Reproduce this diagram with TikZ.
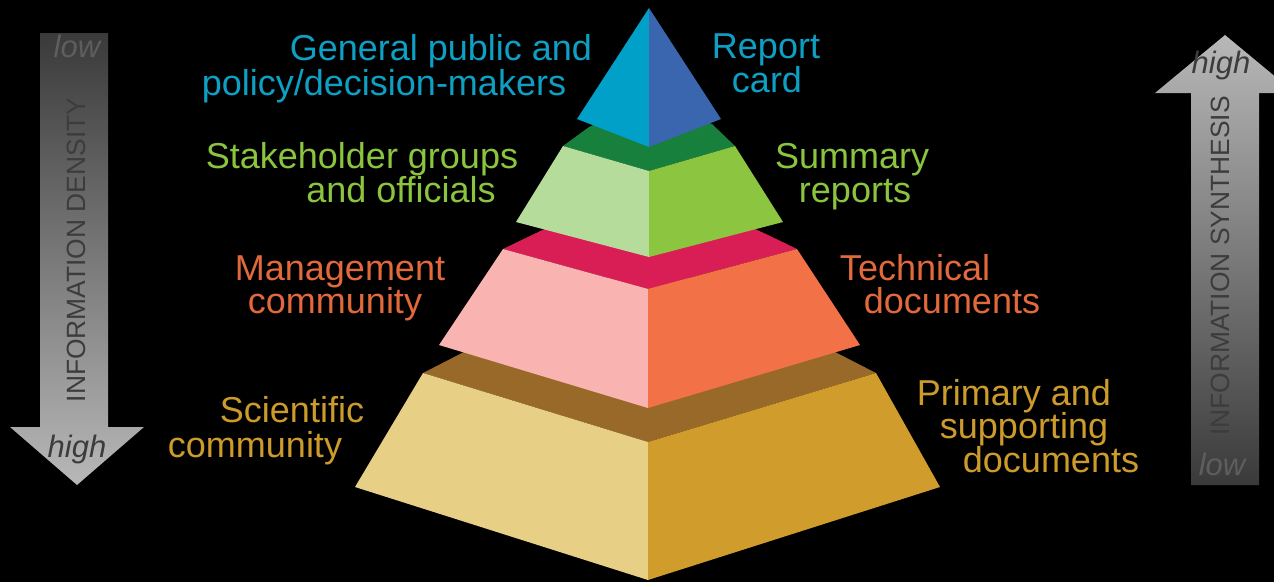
\documentclass[tikz,border=0pt]{standalone}
\usepackage{fontspec}
\setmainfont{Liberation Sans}
\definecolor{tetraL}{HTML}{00A0C8}
\definecolor{tetraR}{HTML}{3A66B0}
\definecolor{greenTop}{HTML}{17803D}
\definecolor{greenL}{HTML}{B6DC9C}
\definecolor{greenR}{HTML}{8CC540}
\definecolor{redTop}{HTML}{D91E56}
\definecolor{pinkL}{HTML}{F9B3B0}
\definecolor{orangeR}{HTML}{F37147}
\definecolor{brownTop}{HTML}{996929}
\definecolor{tanL}{HTML}{E8CF86}
\definecolor{goldR}{HTML}{D09D2D}
\definecolor{txtCyan}{HTML}{0DA0C4}
\definecolor{txtGreen}{HTML}{8BC53F}
\definecolor{txtOrange}{HTML}{E2693C}
\definecolor{txtGold}{HTML}{CC9B2C}
\definecolor{arrDark}{HTML}{3A3A3A}
\definecolor{arrLight}{HTML}{B8B8B8}
\definecolor{arrText}{HTML}{3C3C3C}
\definecolor{arrLow}{HTML}{5E5E5E}
\begin{document}
\begin{tikzpicture}[x=1pt,y=-1pt,
  lbl/.style={font=\fontsize{36}{36}\selectfont, inner sep=0pt, anchor=base},
  vlbl/.style={font=\fontsize{26.4}{26.4}\selectfont, inner sep=0pt, rotate=90, text=arrText},
  ilbl/.style={font=\fontsize{31}{31}\selectfont\itshape, inner sep=0pt, anchor=base}]
\useasboundingbox (0,0) rectangle (1274,582);
\clip (0,0) rectangle (1274,582);
\fill[black] (0,0) rectangle (1274,582);

% ---- arrows
\shade[top color=arrDark, bottom color=arrLight]
  (40,33) -- (108,33) -- (108,427) -- (144,427) -- (77,485) -- (10,427) -- (40,427) -- cycle;
\shade[top color=arrLight, bottom color=arrDark]
  (1191,485) -- (1259,485) -- (1259,93) -- (1295,93) -- (1225,35) -- (1155,93) -- (1191,93) -- cycle;
\node[vlbl] (dens) at (76,250) {INFORMATION DENSITY};
\node[vlbl] (synth) at (1220,266) {INFORMATION SYNTHESIS};
\node[ilbl, text=arrLow] (lowL) at (77,57) {low};
\node[ilbl, text=arrText] (highL) at (77,457) {high};
\node[ilbl, text=arrText] (highR) at (1221,73) {high};
\node[ilbl, text=arrLow] (lowR) at (1222,475) {low};

% ---- bottom tier
\fill[brownTop] (423,373) -- (462,353) -- (649,258) -- (837,353) -- (876,373) -- (648,442) -- cycle;
\fill[tanL] (423,373) -- (648,442) -- (648,580) -- (355,487) -- cycle;
\fill[goldR] (876,373) -- (648,442) -- (648,580) -- (940,487) -- cycle;

% ---- third tier
\fill[redTop] (503,249) -- (532,235) -- (649,180) -- (768,235) -- (797,249) -- (648,289) -- cycle;
\fill[pinkL] (503,249) -- (648,289) -- (648,408) -- (439,345) -- cycle;
\fill[orangeR] (797,249) -- (648,289) -- (648,408) -- (860,345) -- cycle;

% ---- second tier
\fill[greenTop] (563,146) -- (589,127) -- (649,100) -- (712,124) -- (735,146) -- (649,171) -- cycle;
\fill[greenL] (563,146) -- (649,171) -- (649,257) -- (516,222) -- cycle;
\fill[greenR] (735,146) -- (649,171) -- (649,257) -- (783,222) -- cycle;

% ---- top tetrahedron
\fill[tetraL] (649,8) -- (577,119) -- (649,147) -- cycle;
\fill[tetraR] (649,8) -- (721,119) -- (649,147) -- cycle;

% ---- labels
\node[lbl, text=txtCyan] (gp1) at (441,60) {General public and};
\node[lbl, text=txtCyan] (gp2) at (384,95) {policy/decision-makers};
\node[lbl, text=txtCyan] (rc1) at (766,58) {Report};
\node[lbl, text=txtCyan] (rc2) at (767,92) {card};

\node[lbl, text=txtGreen] (sh1) at (362,168) {Stakeholder groups};
\node[lbl, text=txtGreen] (sh2) at (401,202) {and officials};
\node[lbl, text=txtGreen] (sr1) at (852,168) {Summary};
\node[lbl, text=txtGreen] (sr2) at (855,202) {reports};

\node[lbl, text=txtOrange] (mc1) at (340,280) {Management};
\node[lbl, text=txtOrange] (mc2) at (335,313) {community};
\node[lbl, text=txtOrange] (td1) at (915,280) {Technical};
\node[lbl, text=txtOrange] (td2) at (952,313) {documents};

\node[lbl, text=txtGold] (sc1) at (292,422) {Scientific};
\node[lbl, text=txtGold] (sc2) at (255,457) {community};
\node[lbl, text=txtGold] (pd1) at (1014,405) {Primary and};
\node[lbl, text=txtGold] (pd2) at (1024,438) {supporting};
\node[lbl, text=txtGold] (pd3) at (1051,472) {documents};
\end{tikzpicture}
\end{document}
